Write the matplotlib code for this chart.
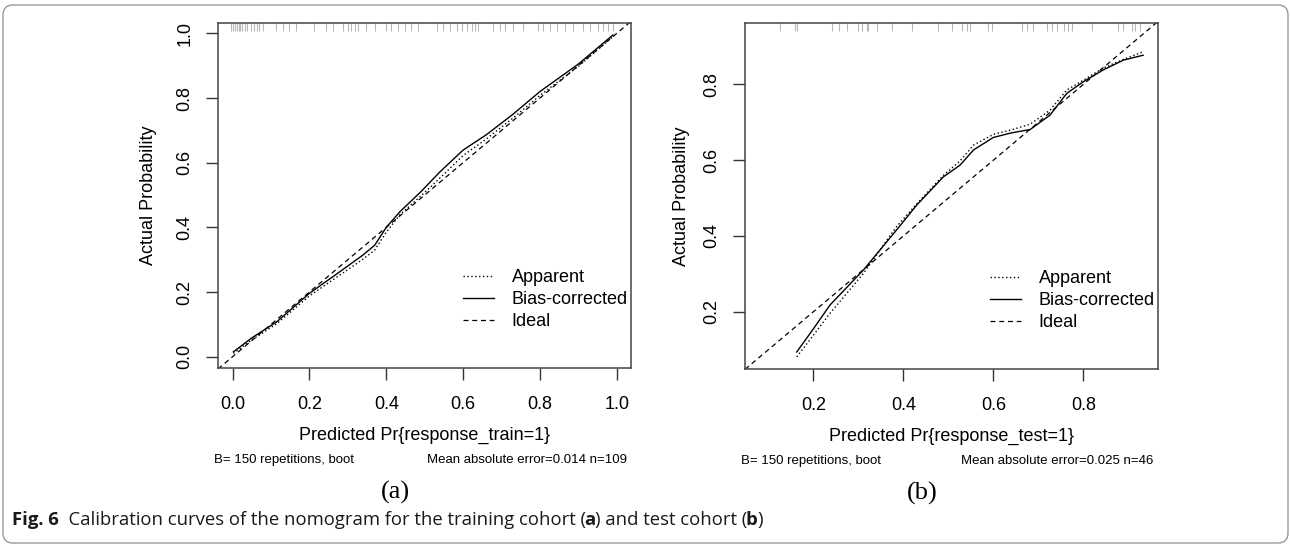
import matplotlib
matplotlib.use("Agg")
import matplotlib.pyplot as plt
from matplotlib.patches import FancyBboxPatch

plt.rcParams["font.family"] = ["Liberation Sans", "DejaVu Sans"]

# ---- dados ----
# painel (a): treino
train_x = [0.002, 0.05, 0.115, 0.20, 0.27, 0.34, 0.37, 0.40, 0.436, 0.49,
           0.54, 0.60, 0.66, 0.73, 0.80, 0.90, 0.99]
train_bias = [0.015, 0.058, 0.108, 0.196, 0.255, 0.315, 0.345, 0.40, 0.449, 0.51,
              0.572, 0.639, 0.686, 0.75, 0.82, 0.905, 0.995]
train_apparent = [0.010, 0.052, 0.102, 0.188, 0.245, 0.302, 0.330, 0.385, 0.440, 0.497,
                  0.553, 0.622, 0.673, 0.738, 0.808, 0.898, 0.990]
train_rug = [-0.004, 0.001, 0.007, 0.011, 0.016, 0.02, 0.025, 0.031, 0.038, 0.047,
             0.055, 0.064, 0.07, 0.079, 0.114, 0.131, 0.148, 0.166, 0.213, 0.244,
             0.261, 0.287, 0.30, 0.309, 0.318, 0.326, 0.348, 0.37, 0.40, 0.413,
             0.43, 0.448, 0.465, 0.483, 0.531, 0.548, 0.566, 0.583, 0.596, 0.609,
             0.622, 0.631, 0.64, 0.679, 0.696, 0.709, 0.731, 0.757, 0.796, 0.809,
             0.826, 0.844, 0.865, 0.887, 0.913, 0.93, 0.952, 0.965, 0.978, 0.991]

# painel (b): teste
test_x = [0.163, 0.20, 0.237, 0.311, 0.385, 0.43, 0.489, 0.526, 0.556, 0.60,
          0.64, 0.682, 0.726, 0.763, 0.80, 0.844, 0.889, 0.933]
test_bias = [0.094, 0.155, 0.218, 0.31, 0.416, 0.482, 0.556, 0.587, 0.627, 0.66,
             0.672, 0.681, 0.719, 0.776, 0.807, 0.838, 0.864, 0.877]
test_apparent = [0.081, 0.138, 0.196, 0.301, 0.425, 0.485, 0.56, 0.598, 0.64, 0.668,
                 0.68, 0.695, 0.732, 0.785, 0.811, 0.843, 0.866, 0.886]
test_rug = [0.126, 0.159, 0.163, 0.241, 0.256, 0.274, 0.30, 0.308, 0.319, 0.322,
            0.341, 0.374, 0.419, 0.478, 0.508, 0.53, 0.541, 0.548, 0.589, 0.596,
            0.663, 0.674, 0.689, 0.719, 0.73, 0.741, 0.756, 0.767, 0.774, 0.819,
            0.878, 0.889, 0.908, 0.915, 0.926]

paineis = [
    dict(x=train_x, bias=train_bias, app=train_apparent, rug=train_rug,
         lim=(-0.038, 1.037), ylim=(-0.035, 1.032),
         ticks=[0.0, 0.2, 0.4, 0.6, 0.8, 1.0],
         xlabel="Predicted Pr{response_train=1}",
         info="Mean absolute error=0.014 n=109", tag="(a)",
         pos=[218 / 1290, 177 / 545, 413 / 1290, 345 / 545], ylab_x=-0.169),
    dict(x=test_x, bias=test_bias, app=test_apparent, rug=test_rug,
         lim=(0.048, 0.966), ylim=(0.049, 0.962),
         ticks=[0.2, 0.4, 0.6, 0.8],
         xlabel="Predicted Pr{response_test=1}",
         info="Mean absolute error=0.025 n=46", tag="(b)",
         pos=[745 / 1290, 176 / 545, 413 / 1290, 346 / 545], ylab_x=-0.153),
]

fig = plt.figure(figsize=(12.9, 5.45), dpi=100)

# moldura arredondada externa
moldura = FancyBboxPatch((0.03, 0.02), 12.85, 5.38,
                         boxstyle="round,pad=0,rounding_size=0.1",
                         transform=fig.dpi_scale_trans, facecolor="none",
                         edgecolor="#9a9a9a", linewidth=1.0)
fig.patches.append(moldura)

for p in paineis:
    ax = fig.add_axes(p["pos"])
    ax.plot(p["x"], p["app"], color="black", lw=1.0, linestyle=(0, (1, 1.8)), label="Apparent")
    ax.plot(p["x"], p["bias"], color="black", lw=1.0, linestyle="-", label="Bias-corrected")
    ax.plot([p["lim"][0], p["lim"][1]], [p["lim"][0], p["lim"][1]], color="black", lw=0.9,
            linestyle=(0, (4, 3)), label="Ideal")
    # rug no topo
    ax.vlines(p["rug"], 0.978, 1.0, transform=ax.get_xaxis_transform(),
              color="#b8b8b8", lw=0.8)

    ax.set_xlim(*p["lim"])
    ax.set_ylim(*p["ylim"])
    ax.set_xticks(p["ticks"])
    ax.set_yticks(p["ticks"])
    ax.set_xticklabels([f"{t:.1f}" for t in p["ticks"]])
    ax.set_yticklabels([f"{t:.1f}" for t in p["ticks"]])
    ax.tick_params(labelsize=13, length=8.5, width=1.0, color="#333333")
    ax.tick_params(axis="x", pad=12)
    ax.tick_params(axis="y", pad=9)
    plt.setp(ax.get_yticklabels(), rotation=90, va="center")
    for s in ax.spines.values():
        s.set_color("#444444")
        s.set_linewidth(1.1)

    ax.set_xlabel(p["xlabel"], fontsize=13)
    ax.xaxis.label.set_va("center")
    ax.xaxis.set_label_coords(0.5, -0.194)
    ax.set_ylabel("Actual Probability", fontsize=13)
    ax.yaxis.label.set_va("center")
    ax.yaxis.set_label_coords(p["ylab_x"], 0.5)

    ax.text(-0.01, -0.266, "B= 150 repetitions, boot", transform=ax.transAxes,
            fontsize=9.5, ha="left", va="center")
    ax.text(0.99, -0.266, p["info"], transform=ax.transAxes,
            fontsize=9.5, ha="right", va="center")
    ax.text(0.43, -0.36, p["tag"], transform=ax.transAxes, fontsize=19,
            family=["Liberation Serif", "DejaVu Serif"], ha="center", va="center")

    ax.legend(loc="lower right", bbox_to_anchor=(0.992, 0.11), frameon=False,
              fontsize=13, handlelength=1.75, handletextpad=0.95,
              labelspacing=0.27, borderpad=0, borderaxespad=0)

# legenda da figura com partes em negrito
partes = [("Fig. 6", "bold", 0),
          ("  Calibration curves of the nomogram for the training cohort (", "normal", 0),
          ("a", "bold", -1.5), (") and test cohort (", "normal", 0), ("b", "bold", -1.5),
          (")", "normal", 0)]
cap_font = ["Open Sans", "DejaVu Sans"]
anterior = fig.text(12 / 1290, 16 / 545, partes[0][0], fontsize=13.3, weight=partes[0][1],
                    family=cap_font, color="#1a1a1a", ha="left", va="bottom")
for txt, peso, dx in partes[1:]:
    anterior = plt.annotate(txt, xy=(1, 0), xycoords=anterior,
                            xytext=(dx, 0), textcoords="offset points",
                            fontsize=13.3, weight=peso, family=cap_font,
                            color="#1a1a1a", ha="left", va="bottom",
                            annotation_clip=False)

fig.savefig("out.png", dpi=100)
